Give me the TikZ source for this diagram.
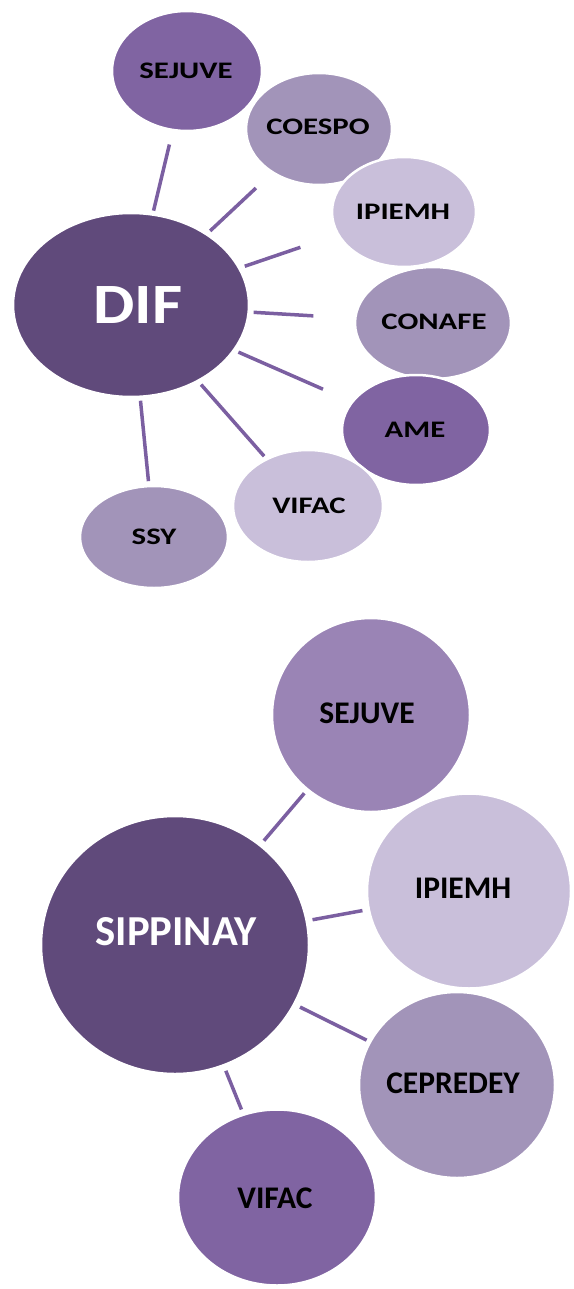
\documentclass[tikz,border=0pt]{standalone}
\usepackage{fontspec}
\usepackage{graphicx}
\setmainfont{Carlito}
\usetikzlibrary{shapes.geometric}
\definecolor{cdark}{HTML}{604A7B}
\definecolor{cmid}{HTML}{8064A2}
\definecolor{cmidlight}{HTML}{9A84B5}
\definecolor{cgray}{HTML}{A294B9}
\definecolor{clight}{HTML}{C9BFDA}
\definecolor{cline}{HTML}{7B5FA1}
\newcommand{\widetext}[2]{\scalebox{#1}[1]{#2}}
\tikzset{
  bub/.style={ellipse, draw=white, line width=2.5pt, inner sep=0pt, outer sep=0pt},
  smalltxt/.style={font=\fontsize{23.7}{28}\selectfont\bfseries, text=black, inner sep=0pt},
  bigtxt/.style={font=\fontsize{31.5}{36}\selectfont\bfseries, text=black, inner sep=0pt},
  conn/.style={draw=cline, line width=3.5pt}
}
\begin{document}
\begin{tikzpicture}[x=1pt,y=-1pt]
\useasboundingbox (0,0) rectangle (573,1289);
% ---------- top diagram ----------
\node[bub, fill=cmid, minimum width=150pt, minimum height=120pt] (sej1) at (187,71) {};
\node[bub, fill=cgray, minimum width=146pt, minimum height=112pt] (coe) at (319,129) {};
\node[bub, fill=clight, minimum width=144pt, minimum height=110pt] (ipi1) at (404,212) {};
\node[bub, fill=cgray, minimum width=156pt, minimum height=112pt] (con) at (433,323) {};
\node[bub, fill=cmid, minimum width=148pt, minimum height=110pt] (ame) at (416,430) {};
\node[bub, fill=clight, minimum width=150pt, minimum height=112pt] (vif1) at (308,506) {};
\node[bub, fill=cgray, minimum width=148pt, minimum height=102pt] (ssy) at (154,537) {};
\node[bub, fill=cdark, minimum width=236pt, minimum height=184pt] (dif) at (131,305) {};

\node[smalltxt] (tsej1) at (186,71) {\widetext{1.3}{SEJUVE}};
\node[smalltxt] (tcoe) at (318,127) {\widetext{1.3}{COESPO}};
\node[smalltxt] (tipi1) at (403,211.5) {\widetext{1.3}{IPIEMH}};
\node[smalltxt] (tcon) at (434,322) {\widetext{1.3}{CONAFE}};
\node[smalltxt] (tame) at (415,430) {\widetext{1.3}{AME}};
\node[smalltxt] (tvif1) at (309,506) {\widetext{1.3}{VIFAC}};
\node[smalltxt] (tssy) at (154,536.5) {\widetext{1.3}{SSY}};
\node[font=\fontsize{57}{64}\selectfont\bfseries, text=white, inner sep=0pt] (tdif) at (138,305) {\widetext{1.15}{DIF}};

\draw[conn, shorten <=4pt, shorten >=15pt] (dif) -- (sej1);
\draw[conn, shorten <=5pt, shorten >=23pt] (dif) -- (coe);
\draw[conn, shorten <=6pt, shorten >=40pt] (dif) -- (ipi1);
\draw[conn, shorten <=5pt, shorten >=42pt] (dif) -- (con);
\draw[conn, shorten <=5pt, shorten >=32pt] (dif) -- (ame);
\draw[conn, shorten <=5pt, shorten >=4pt] (dif) -- (vif1);
\draw[conn, shorten <=4pt, shorten >=5pt] (dif) -- (ssy);

% ---------- bottom diagram ----------
\node[bub, fill=cmidlight, minimum width=198pt, minimum height=194pt] (sej2) at (371,715) {};
\node[bub, fill=clight, minimum width=204pt, minimum height=195pt] (ipi2) at (469,891) {};
\node[bub, fill=cgray, minimum width=196pt, minimum height=186pt] (cep) at (457,1085) {};
\node[bub, fill=cmid, minimum width=198pt, minimum height=176pt] (vif2) at (277,1197.5) {};
\node[bub, fill=cdark, minimum width=268pt, minimum height=258pt] (sip) at (175,945) {};

\node[bigtxt] (tsej2) at (367,713) {SEJUVE};
\node[bigtxt] (tipi2) at (463,888) {IPIEMH};
\node[bigtxt] (tcep) at (453,1083) {CEPREDEY};
\node[bigtxt] (tvif2) at (275,1198) {VIFAC};
\node[font=\fontsize{42.7}{48}\selectfont\bfseries, text=white, inner sep=0pt] (tsip) at (176,932) {SIPPINAY};

\draw[conn, shorten <=6pt, shorten >=5pt] (sip) -- (sej2);
\draw[conn, shorten <=6pt, shorten >=6.5pt] (sip) -- (ipi2);
\draw[conn, shorten <=6.6pt, shorten >=4pt] (sip) -- (cep);
\draw[conn, shorten <=6pt, shorten >=5.6pt] (sip) -- (vif2);
\end{tikzpicture}
\end{document}
